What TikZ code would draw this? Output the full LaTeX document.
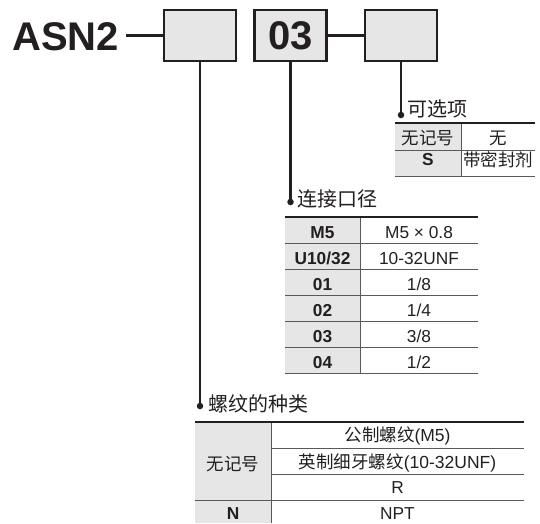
\documentclass[tikz,border=0pt]{standalone}
\usepackage{fontspec}
\setmainfont{Liberation Sans}
\newfontfamily\cjk{Noto Sans CJK SC}
\definecolor{ink}{HTML}{231F20}
\definecolor{boxgray}{HTML}{E6E6E6}
\definecolor{cellgray}{HTML}{E6E6E6}
\definecolor{rulegray}{HTML}{58595B}
\begin{document}
\begin{tikzpicture}[x=1pt,y=-1pt,
  box/.style={draw=ink,line width=2.2pt,fill=boxgray,minimum width=72pt,minimum height=51pt,inner sep=0pt,font=\fontsize{40}{40}\selectfont\bfseries,text=ink},
  conn/.style={draw=ink,line width=2.4pt},
  dotc/.style={circle,fill=ink,inner sep=0pt,minimum size=6.5pt},
  head/.style={anchor=base west,inner sep=0pt,font=\fontsize{20}{20}\selectfont\cjk,text=ink},
  cell/.style={anchor=base,inner sep=0pt,font=\fontsize{17.3}{17.3}\selectfont,text=ink},
  bcell/.style={anchor=base,inner sep=0pt,font=\fontsize{17.3}{17.3}\selectfont\bfseries,text=ink},
  ccell/.style={anchor=base,inner sep=0pt,font=\fontsize{17.5}{17.5}\selectfont\cjk,text=ink},
  toprule/.style={draw=ink,line width=2pt},
  midrule/.style={draw=rulegray,line width=0.9pt}]
\useasboundingbox (0,0) rectangle (540,523);

% title and code boxes
\node[anchor=base west,inner sep=0pt,font=\fontsize{40}{40}\selectfont\bfseries,text=ink] (t) at (12,50) {ASN2};
\node[box] (b1) at (200,35.5) {};
\node[box] (b2) at (290.5,35.5) {03};
\node[box] (b3) at (401,35.5) {};
\draw[conn] ([xshift=7pt]t.east |- b1.west) -- (b1.west);
\draw[conn] (b2.east) -- (b3.west);

% leader lines
\coordinate (d3) at (b3.south |- 0,115);
\coordinate (d2) at (b2.south |- 0,202);
\coordinate (d1) at (b1.south |- 0,406);
\draw[conn] (b3.south) -- (d3);
\draw[conn] (b2.south) -- (d2);
\draw[conn] (b1.south) -- (d1);
\node[dotc] (p3) at (d3) {};
\node[dotc] (p2) at (d2) {};
\node[dotc] (p1) at (d1) {};

% headers
\node[head] (h3) at (407,116.5) {可选项};
\node[head] (h2) at (297,206.5) {连接口径};
\node[head] (h1) at (208,411.5) {螺纹的种类};

% option table
\fill[cellgray] (395,123) rectangle (461,176);
\draw[midrule] (395,150) -- (535,150);
\draw[midrule] (395,176) -- (535,176);
\draw[midrule] (461,123) -- (461,176);
\draw[toprule] (395,123) -- (535,123);
\node[ccell] (o11) at (428,144) {无记号};
\node[ccell] (o12) at (498,144) {无};
\node[bcell] (o21) at (428,165.5) {S};
\node[ccell] (o22) at (498,166) {带密封剂};

% port size table
\fill[cellgray] (285,217) rectangle (360,373.3);
\foreach \yy in {243.3,269.3,295.7,321,347.3,373.3}
  \draw[midrule] (285,\yy) -- (478,\yy);
\draw[midrule] (360,217) -- (360,373.3);
\draw[toprule] (285,217) -- (478,217);
\node[bcell] (c11) at (322.5,238.5) {M5};
\node[cell]  (c12) at (419,238.5) {M5 × 0.8};
\node[bcell] (c21) at (322.5,264.5) {U10/32};
\node[cell]  (c22) at (419,264.5) {10-32UNF};
\node[bcell] (c31) at (322.5,290.5) {01};
\node[cell]  (c32) at (419,290.5) {1/8};
\node[bcell] (c41) at (322.5,316.7) {02};
\node[cell]  (c42) at (419,316.7) {1/4};
\node[bcell] (c51) at (322.5,342.2) {03};
\node[cell]  (c52) at (419,342.2) {3/8};
\node[bcell] (c61) at (322.5,368.3) {04};
\node[cell]  (c62) at (419,368.3) {1/2};

% thread type table
\fill[cellgray] (195,422) rectangle (271,523);
\draw[midrule] (271,448) -- (524,448);
\draw[midrule] (271,474) -- (524,474);
\draw[midrule] (195,500) -- (524,500);
\draw[midrule] (271,422) -- (271,523);
\draw[toprule] (195,422) -- (524,422);
\node[ccell] (s11) at (233,470.5) {无记号};
\node[ccell] (s12) at (397.5,441.5) {公制螺纹\fontspec{Liberation Sans}(M5)};
\node[ccell] (s22) at (397.5,468) {英制细牙螺纹\fontspec{Liberation Sans}(10-32UNF)};
\node[cell]  (s32) at (397.5,493) {R};
\node[bcell] (s41) at (233,519) {N};
\node[cell]  (s42) at (397.5,519) {NPT};
\end{tikzpicture}
\end{document}
